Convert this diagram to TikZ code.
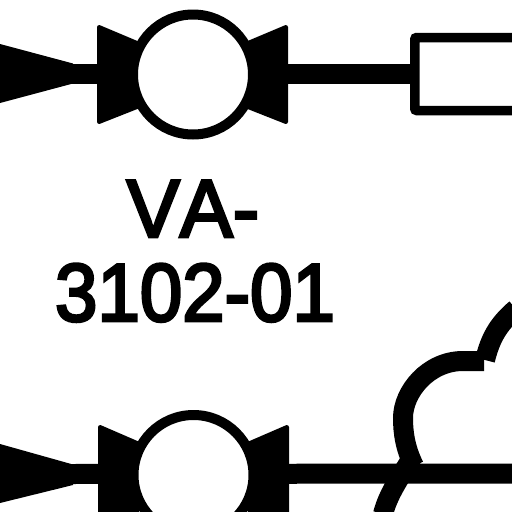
\documentclass[tikz,border=0pt]{standalone}
\usepackage{fontspec}
\newfontfamily\tagfont[FakeBold=3.6,Kerning=Off]{Liberation Sans}
\tikzset{
  pipe/.style={line width=20pt},
  curveline/.style={line width=20pt},
  solid shape/.style={fill=black,draw=black,line width=4pt,line join=round},
  ring/.style={circle,draw=black,line width=10pt,fill=white,minimum size=120pt,inner sep=0pt},
  tag/.style={font=\tagfont\fontsize{82}{82}\selectfont,text=black,inner sep=0pt,anchor=base,transform shape},
}
\begin{document}
\begin{tikzpicture}[x=1pt,y=-1pt]
\useasboundingbox (0,0) rectangle (512,512);
% upper line
\fill (0,44) -- (73,63.5) -- (73,83.5) -- (0,103) -- cycle;
\node[draw=black,line width=9.5pt,fill=white,minimum width=130pt,minimum height=73pt,inner sep=0pt,rounded corners=2pt,anchor=west] (box) at (410,74) {};
\coordinate (pa) at (70,73.5);
\coordinate (pb) at (415,73.5);
\draw[pipe] (pa) -- (pb);
\draw[solid shape] (99,27) -- (137,43) -- (137,107) -- (99,122) -- cycle;
\draw[solid shape] (286,27) -- (248,43) -- (248,107) -- (286,122) -- cycle;
\node[ring] (va) at (193,74.5) {};
% label
\node[tag,xscale=.97] (l1) at (193,237) {VA-};
\node[tag,xscale=.93] (l2) at (195,321) {3102-01};
% lower line
\fill (0,444) -- (73,464.5) -- (73,485) -- (0,503) -- cycle;
\coordinate (qa) at (70,474);
\coordinate (qb) at (512,473.5);
\draw[pipe] (qa) -- (qb);
\draw[solid shape] (100,427) -- (137,443) -- (137,514) -- (100,514) -- cycle;
\draw[solid shape] (287,427) -- (250,443) -- (250,514) -- (287,514) -- cycle;
\node[ring] (vb) at (193.5,475) {};
% cloud
\draw[curveline] (383,514) .. controls (388,495) and (398,480) .. (412,458);
\draw[curveline] (414,466) .. controls (405,448) and (403,432) .. (403,418)
  .. controls (403,392) and (428,361) .. (463,361) -- (484,361);
\draw[curveline] (485,360) .. controls (490,340) and (497,325) .. (516,309);
\end{tikzpicture}
\end{document}
